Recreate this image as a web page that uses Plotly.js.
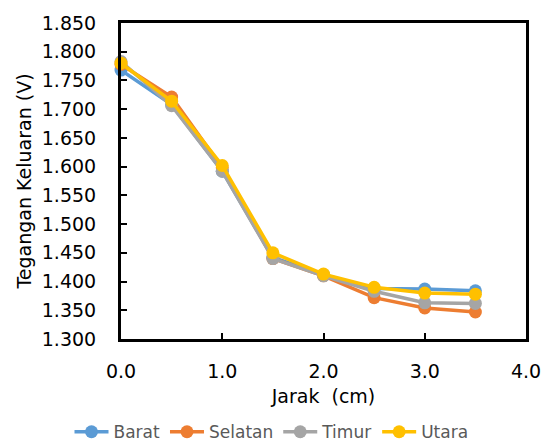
<!DOCTYPE html>
<html><head><meta charset="utf-8">
<script src="https://cdn.plot.ly/plotly-3.0.1.min.js"></script>
<style>html,body{margin:0;padding:0;background:#fff}</style>
</head><body>
<div id="chart" style="width:543px;height:441px"></div>
<script>
const jarak = [0.0, 0.5, 1.0, 1.5, 2.0, 2.5, 3.0, 3.5];
const barat   = [1.768, 1.708, 1.592, 1.442, 1.412, 1.388, 1.387, 1.384];
const selatan = [1.778, 1.721, 1.598, 1.440, 1.410, 1.372, 1.354, 1.347];
const timur   = [1.783, 1.706, 1.592, 1.440, 1.410, 1.383, 1.363, 1.362];
const utara   = [1.780, 1.714, 1.602, 1.450, 1.413, 1.390, 1.380, 1.378];
const seriesNames = ['Barat', 'Selatan', 'Timur', 'Utara'];
const colors = ['#5B9BD5', '#ED7D31', '#A5A5A5', '#FFC000'];
const yTicks = [1.30,1.35,1.40,1.45,1.50,1.55,1.60,1.65,1.70,1.75,1.80,1.85];
const xTicks = [0,1,2,3,4];

const all = [barat, selatan, timur, utara];
const traces = all.map((ys, i) => ({
  x: jarak, y: ys, name: seriesNames[i], type: 'scatter', mode: 'lines+markers',
  line: {color: colors[i], width: 3.5},
  marker: {color: colors[i], size: 13},
  cliponaxis: false
}));
const font = {family: 'DejaVu Sans, sans-serif', color: '#000'};
const layout = {
  width: 543, height: 441,
  margin: {l: 121, r: 17, t: 23, b: 102},
  paper_bgcolor: '#fff', plot_bgcolor: '#fff',
  showlegend: true,
  legend: {orientation: 'h', x: 0.5, xanchor: 'center', xref: 'container',
           y: 0.02, yanchor: 'middle', yref: 'container',
           itemwidth: 34,
           font: Object.assign({}, font, {size: 17, color: '#595959'}), traceorder: 'normal',
           bgcolor: 'rgba(0,0,0,0)'},
  xaxis: {
    range: [0, 4], tickvals: xTicks, ticktext: xTicks.map(v => v.toFixed(1)),
    ticks: 'inside', ticklen: 6, tickwidth: 2, tickcolor: '#000',
    showline: true, linecolor: '#000', linewidth: 3, mirror: true,
    showgrid: false, zeroline: false, ticklabelstandoff: 13,
    tickfont: Object.assign({}, font, {size: 19}),
    title: {text: 'Jarak  (cm)', font: Object.assign({}, font, {size: 19}), standoff: 9}
  },
  yaxis: {
    range: [1.30, 1.85], tickvals: yTicks, ticktext: yTicks.map(v => v.toFixed(3)),
    ticks: 'inside', ticklen: 6, tickwidth: 2, tickcolor: '#000',
    showline: true, linecolor: '#000', linewidth: 3, mirror: true,
    showgrid: false, zeroline: false, ticklabelstandoff: 18,
    tickfont: Object.assign({}, font, {size: 19}),
    title: {text: 'Tegangan Keluaran (V)', font: Object.assign({}, font, {size: 19}), standoff: 6}
  }
};
Plotly.newPlot('chart', traces, layout, {displayModeBar: false, staticPlot: true});
</script>
</body></html>
